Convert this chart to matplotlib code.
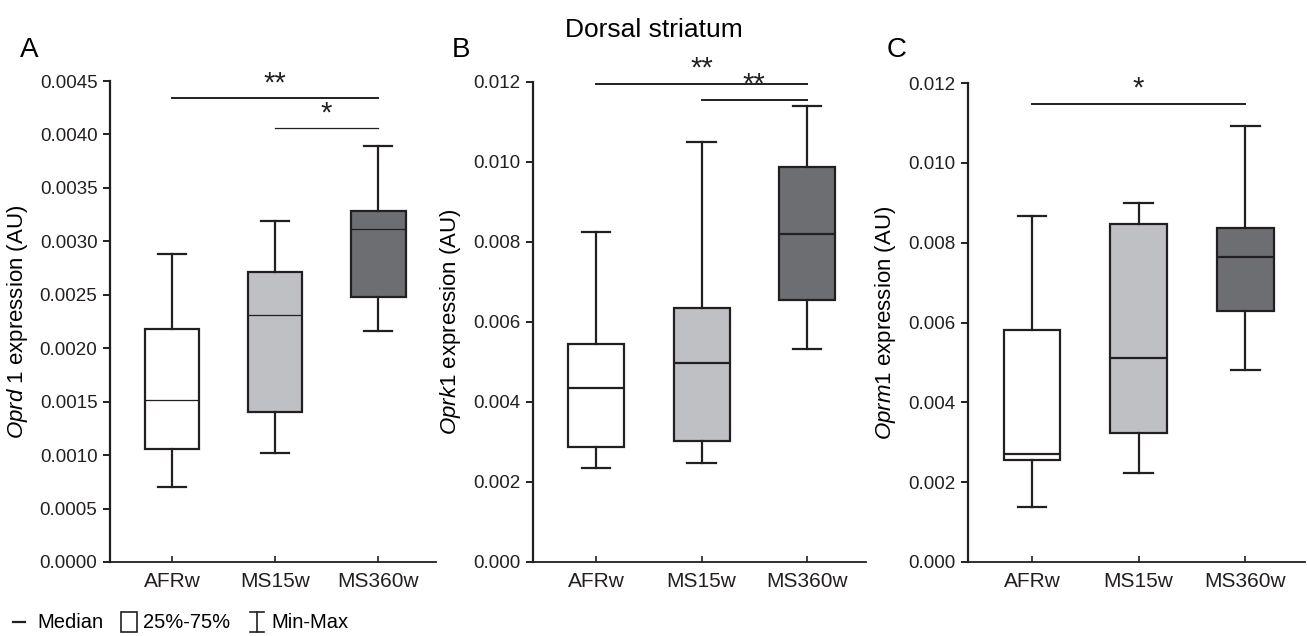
import matplotlib
matplotlib.use("Agg")
import matplotlib.pyplot as plt
from matplotlib.lines import Line2D
from matplotlib.patches import Rectangle

plt.rcParams["font.family"] = ["Liberation Sans", "DejaVu Sans"]
plt.rcParams["mathtext.fontset"] = "custom"
plt.rcParams["mathtext.it"] = "Liberation Sans:italic"
plt.rcParams["mathtext.rm"] = "Liberation Sans"

GROUPS = ["AFRw", "MS15w", "MS360w"]
FILLS = ["#ffffff", "#bfc0c3", "#6d6e71"]
INK = "#231f20"

# per group: whisker low, q1, median, q3, whisker high
OPRD1 = {
    "whislo": [0.000702, 0.00102, 0.00216],
    "q1": [0.00106, 0.00140, 0.00248],
    "med": [0.00152, 0.00231, 0.00312],
    "q3": [0.00218, 0.00271, 0.00328],
    "whishi": [0.00288, 0.00319, 0.00389],
}
OPRK1 = {
    "whislo": [0.00235, 0.00248, 0.00533],
    "q1": [0.00288, 0.00303, 0.00655],
    "med": [0.00435, 0.00498, 0.00820],
    "q3": [0.00545, 0.00635, 0.00988],
    "whishi": [0.00825, 0.01050, 0.01140],
}
OPRM1 = {
    "whislo": [0.00138, 0.00223, 0.00481],
    "q1": [0.00256, 0.00323, 0.00629],
    "med": [0.00271, 0.00511, 0.00764],
    "q3": [0.00581, 0.00847, 0.00837],
    "whishi": [0.00867, 0.00900, 0.01093],
}

# significance bars: (from group, to group, height, stars)
SIG_A = [(0, 2, 0.00434, "**"), (1, 2, 0.00406, "*")]
SIG_B = [(0, 2, 0.01195, "**"), (1, 2, 0.01155, "**")]
SIG_C = [(0, 2, 0.01148, "*")]

PANELS = [
    ("A", "Oprd\\ 1", OPRD1, SIG_A, 0.0045, [i * 0.0005 for i in range(10)], "{:.4f}"),
    ("B", "Oprk1", OPRK1, SIG_B, 0.012, [i * 0.002 for i in range(7)], "{:.3f}"),
    ("C", "Oprm1", OPRM1, SIG_C, 0.012, [i * 0.002 for i in range(7)], "{:.3f}"),
]

W, H = 1307, 636
# axes boxes in pixels: left, right, top, bottom
BOXES = [(110, 436, 81, 562), (533, 866, 82, 562), (968, 1305, 83, 562)]
LABEL_X = {"A": 30, "B": 463, "C": 898}
LETTER_X = {"A": 20, "B": 452, "C": 887}

fig = plt.figure(figsize=(W / 100, H / 100), dpi=100)

for (letter, gene, data, sigs, ymax, yticks, fmt), (l, r, t, b) in zip(PANELS, BOXES):
    ax = fig.add_axes([l / W, 1 - b / H, (r - l) / W, (b - t) / H])
    stats = [
        {
            "whislo": data["whislo"][i], "q1": data["q1"][i], "med": data["med"][i],
            "q3": data["q3"][i], "whishi": data["whishi"][i], "fliers": [],
        }
        for i in range(len(GROUPS))
    ]
    med_lw = 0.9 if letter == "A" else 1.6
    res = ax.bxp(
        stats, positions=range(len(GROUPS)), widths=0.53, patch_artist=True,
        showfliers=False,
        boxprops=dict(edgecolor=INK, linewidth=1.6),
        whiskerprops=dict(color=INK, linewidth=1.6),
        capprops=dict(color=INK, linewidth=1.6),
        medianprops=dict(color=INK, linewidth=med_lw),
        capwidths=0.27,
    )
    for patch, fc in zip(res["boxes"], FILLS):
        patch.set_facecolor(fc)

    for x0, x1, y, stars in sigs:
        lw = 0.9 if (letter == "A" and stars == "*") else 1.4
        ax.plot([x0, x1], [y, y], color=INK, linewidth=lw, clip_on=False)
        ax.text((x0 + x1) / 2, y + ymax * 0.002, stars, ha="center", va="bottom",
                fontsize=21, color=INK)

    ax.set_xlim(-0.6, 2.56)
    ax.set_ylim(0, ymax)
    ax.set_xticks(range(len(GROUPS)))
    ax.set_xticklabels(GROUPS, fontsize=15)
    ax.set_yticks(yticks)
    ax.set_yticklabels([fmt.format(v) for v in yticks], fontsize=13.5)
    ax.tick_params(axis="x", direction="in", length=4, width=1.2, pad=7, colors=INK)
    ax.tick_params(axis="y", direction="out", length=5, width=1.4, pad=4, colors=INK)
    for side in ("top", "right"):
        ax.spines[side].set_visible(False)
    ax.spines["left"].set_linewidth(1.6)
    ax.spines["bottom"].set_linewidth(1.3)
    ax.spines["left"].set_color(INK)
    ax.spines["bottom"].set_color(INK)
    ax.set_ylabel(rf"$\it{{{gene}}}$ expression (AU)", fontsize=16)
    ax.yaxis.set_label_coords((LABEL_X[letter] - l) / (r - l), 0.5)
    fig.text(LETTER_X[letter] / W, 1 - 50 / H, letter,
             fontsize=20, ha="left", va="center")

fig.text(654 / W, 1 - 30 / H, "Dorsal striatum", fontsize=19, ha="center", va="center")

# legend glyphs along the bottom
ly = 1 - 622 / H
fig.add_artist(Line2D([13 / W, 25 / W], [ly, ly], color=INK, linewidth=1.6))
fig.text(37 / W, ly, "Median", fontsize=14.5, va="center")
fig.add_artist(Rectangle((121 / W, 1 - 632 / H), 16 / W, 20 / H, fill=False,
                         edgecolor=INK, linewidth=1.2, transform=fig.transFigure))
fig.text(143 / W, ly, "25%-75%", fontsize=14.5, va="center")
cx = 257 / W
fig.add_artist(Line2D([cx, cx], [1 - 632 / H, 1 - 612 / H], color=INK, linewidth=1.2))
fig.add_artist(Line2D([250 / W, 264 / W], [1 - 612 / H] * 2, color=INK, linewidth=1.2))
fig.add_artist(Line2D([250 / W, 264 / W], [1 - 632 / H] * 2, color=INK, linewidth=1.2))
fig.text(271 / W, ly, "Min-Max", fontsize=14.5, va="center")

fig.savefig("out.png", dpi=100)
